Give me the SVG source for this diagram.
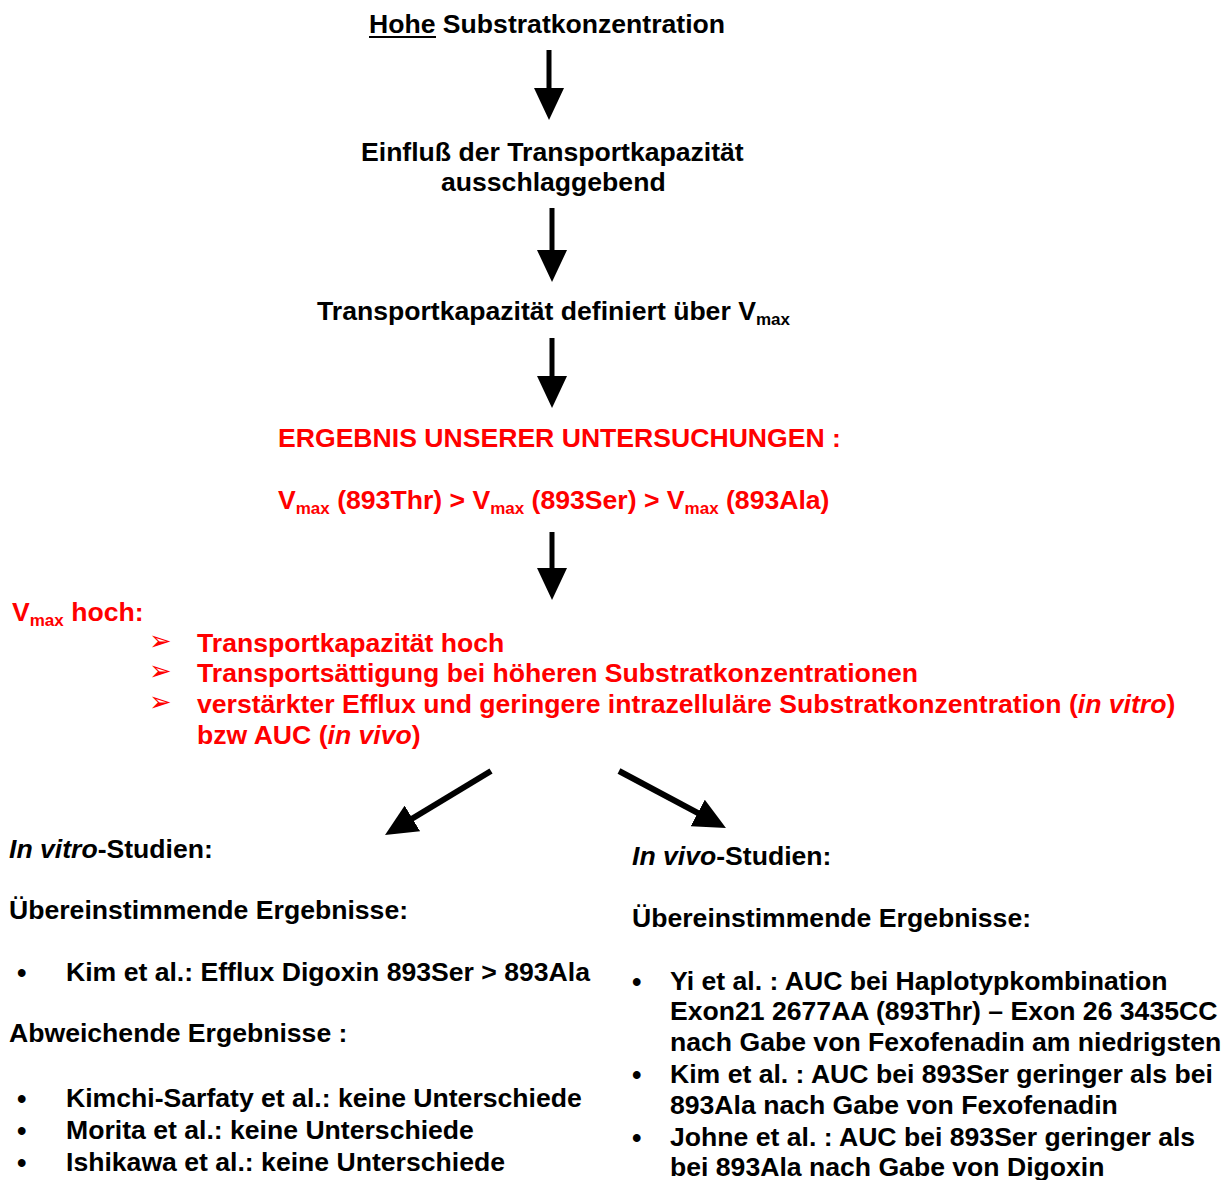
<svg xmlns="http://www.w3.org/2000/svg" width="1231" height="1180" viewBox="0 0 1231 1180">
<style>
text{font-family:"Liberation Sans",Arial,sans-serif;font-weight:bold;font-size:26.6px;fill:#000}
.red{fill:#ff0000}
.sub{font-size:17px}
.it{font-style:italic}
.arr{font-family:"DejaVu Sans",sans-serif;font-size:27px;font-weight:normal}
.bul{font-size:27px}
.conn line{stroke:#000;stroke-width:5;marker-end:url(#head)}
.conn line.diag{stroke-width:6}
</style>
<defs>
<marker id="head" markerUnits="userSpaceOnUse" markerWidth="34" markerHeight="30" viewBox="0 0 34 30" refX="2" refY="15" orient="auto">
<path d="M0,0 L32,15 L0,30 Z" fill="#000"/>
</marker>
</defs>
<rect width="1231" height="1180" fill="#fff"/>
<g class="conn" id="connectors">
<line x1="549" y1="50" x2="549" y2="90"/>
<line x1="552" y1="208" x2="552" y2="252"/>
<line x1="552" y1="338" x2="552" y2="378"/>
<line x1="552" y1="532" x2="552" y2="570"/>
<line class="diag" x1="491" y1="771" x2="410.7" y2="819.5"/>
<line class="diag" x1="619" y1="771" x2="699.5" y2="813.9"/>
</g>
<g id="n1">
<text x="369" y="33">Hohe Substratkonzentration</text>
<rect x="369" y="36" width="67" height="2" fill="#000"/>
</g>
<g id="n2">
<text x="361" y="161">Einfluß der Transportkapazität</text>
<text x="441" y="191">ausschlaggebend</text>
</g>
<g id="n3">
<text x="317" y="320">Transportkapazität definiert über V<tspan class="sub" dy="5">max</tspan></text>
</g>
<g id="n4">
<text class="red" x="278" y="447">ERGEBNIS UNSERER UNTERSUCHUNGEN :</text>
<text class="red" x="278" y="509">V<tspan class="sub" dy="5">max</tspan><tspan dy="-5"> (893Thr) &gt; V</tspan><tspan class="sub" dy="5">max</tspan><tspan dy="-5"> (893Ser) &gt; V</tspan><tspan class="sub" dy="5">max</tspan><tspan dy="-5"> (893Ala)</tspan></text>
</g>
<g id="n5">
<text class="red" x="12" y="621">V<tspan class="sub" dy="5">max</tspan><tspan dy="-5"> hoch:</tspan></text>
<text class="red arr" x="149" y="649.5">➢</text>
<text class="red arr" x="149" y="679.5">➢</text>
<text class="red arr" x="149" y="710.5">➢</text>
<text class="red" x="197" y="652">Transportkapazität hoch</text>
<text class="red" x="197" y="682">Transportsättigung bei höheren Substratkonzentrationen</text>
<text class="red" x="197" y="713">verstärkter Efflux und geringere intrazelluläre Substratkonzentration (<tspan class="it">in vitro</tspan>)</text>
<text class="red" x="197" y="744">bzw AUC (<tspan class="it">in vivo</tspan>)</text>
</g>
<g id="n6">
<text x="9" y="858"><tspan class="it">In vitro</tspan>-Studien:</text>
<text x="9" y="919">Übereinstimmende Ergebnisse:</text>
<text class="bul" x="17" y="982">•</text>
<text x="66" y="981">Kim et al.: Efflux Digoxin 893Ser &gt; 893Ala</text>
<text x="9" y="1042">Abweichende Ergebnisse :</text>
<text class="bul" x="17" y="1108">•</text>
<text x="66" y="1107">Kimchi-Sarfaty et al.: keine Unterschiede</text>
<text class="bul" x="17" y="1140">•</text>
<text x="66" y="1139">Morita et al.: keine Unterschiede</text>
<text class="bul" x="17" y="1172">•</text>
<text x="66" y="1171">Ishikawa et al.: keine Unterschiede</text>
</g>
<g id="n7">
<text x="632" y="865"><tspan class="it">In vivo</tspan>-Studien:</text>
<text x="632" y="927">Übereinstimmende Ergebnisse:</text>
<text class="bul" x="632" y="991">•</text>
<text x="670" y="990">Yi et al. : AUC bei Haplotypkombination</text>
<text x="670" y="1020">Exon21 2677AA (893Thr) – Exon 26 3435CC</text>
<text x="670" y="1051">nach Gabe von Fexofenadin am niedrigsten</text>
<text class="bul" x="632" y="1084">•</text>
<text x="670" y="1083">Kim et al. : AUC bei 893Ser geringer als bei</text>
<text x="670" y="1114">893Ala nach Gabe von Fexofenadin</text>
<text class="bul" x="632" y="1147">•</text>
<text x="670" y="1146">Johne et al. : AUC bei 893Ser geringer als</text>
<text x="670" y="1176">bei 893Ala nach Gabe von Digoxin</text>
</g>
</svg>
